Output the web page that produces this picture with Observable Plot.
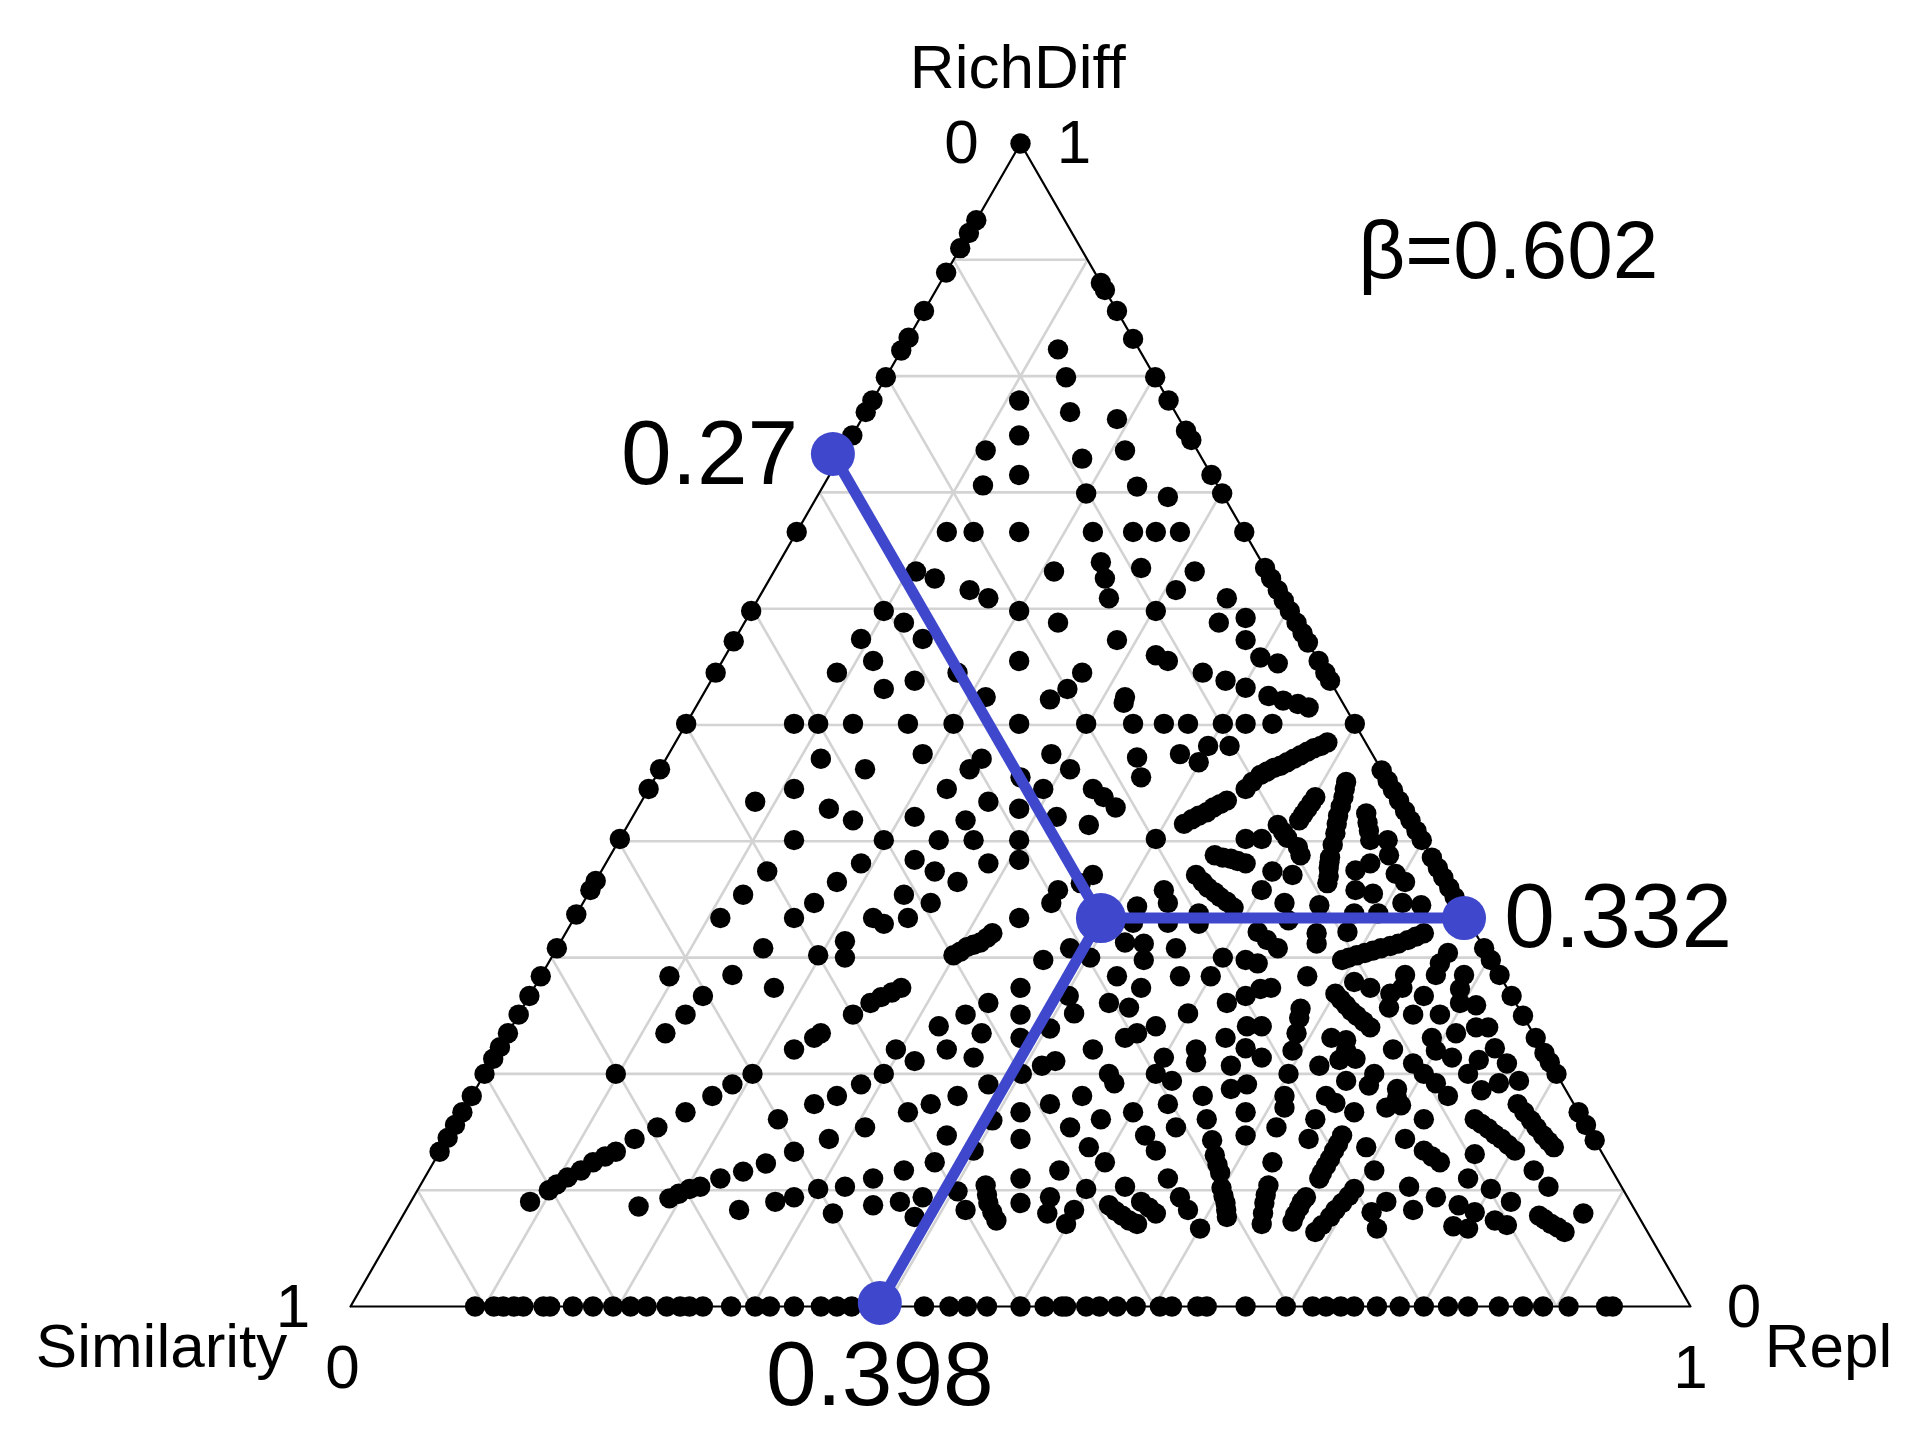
<!DOCTYPE html>
<html>
<head>
<meta charset="utf-8">
<style>html,body{margin:0;padding:0;background:#fff}svg{display:block}</style>
<script src="https://cdn.jsdelivr.net/npm/d3@7"></script>
<script src="https://cdn.jsdelivr.net/npm/@observablehq/plot@0.6"></script>
</head>
<body>
<script>
// Ternary values in percent: base = position along the base side, rich = RichDiff
const gridTicks = [10,20,30,40,50,60,70,80,90];
const apexRich = [100];
const leftEdgeRich = [93.4,92.3,91.0,88.9,85.6,83.3,82.2,79.9,77.9,76.9,74.9,66.6,59.8,57.2,54.5,50.1,46.2,44.5,40.2,36.6,35.8,33.7,30.8,28.4,26.7,25.1,23.5,22.3,21.3,20.0,18.1,16.7,15.6,14.5,13.3];
const rightEdgeRich = [88.0,87.4,85.6,83.2,79.9,77.9,75.3,74.5,71.5,69.9,66.6,63.5,62.6,61.6,60.7,59.8,58.8,57.9,57.1,55.5,54.5,53.8,50.1,46.1,45.2,44.4,43.5,42.6,41.8,40.9,40.1,38.6,37.7,36.9,36.0,35.2,30.8,29.8,28.5,26.7,25.0,23.1,21.8,21.0,20.0,16.7,15.6,14.3];
const baselinePos = [9.3,10.7,11.4,12.2,12.9,14.4,14.9,16.6,18.1,19.6,20.9,22.1,23.6,24.6,25.3,26.3,28.4,30.2,31.3,33.1,35.1,36.3,37.4,42.8,44.7,46.0,47.5,50.0,51.8,53.1,53.4,54.9,55.9,57.2,58.6,60.4,61.3,63.2,63.9,66.8,69.8,71.8,72.8,73.9,74.9,76.6,78.3,80.1,81.9,83.4,85.7,87.5,89.0,90.9,93.7,94.2];

const upperDots = [[52.8,82.3],[53.4,79.9],[49.9,77.9],[53.7,76.9],[57.2,76.3],[49.9,74.9],[47.4,73.6],[54.6,72.9],[57.8,73.6],[49.9,71.5],[47.2,70.6],[54.9,69.9],[58.7,70.5],[61.0,69.6],[44.5,66.6],[46.5,66.6],[49.9,66.6],[55.4,66.6],[58.4,66.6],[60.1,66.6],[61.9,66.6],[42.2,63.2],[43.6,62.6],[46.2,61.6],[47.6,60.9],[52.5,63.2],[56.0,64.0],[56.3,62.6],[56.6,60.9],[59.0,63.5],[63.0,63.2],[61.6,61.6],[65.4,60.9],[39.8,59.8],[41.3,58.8],[38.1,57.4],[42.7,57.4],[49.9,59.8],[60.1,59.8],[66.8,59.2],[64.8,58.8],[52.8,58.8],[57.2,57.3],[66.8,57.3],
[39.0,55.5],[36.3,54.5],[39.8,53.1],[42.1,53.8],[45.3,54.5],[47.4,52.4],[49.9,55.5],[54.6,54.5],[53.5,53.1],[52.2,52.2],[60.1,56.0],[61.0,55.5],[67.9,55.8],[69.2,55.3],[68.5,52.5],[69.6,52.1],[70.7,51.8],[71.5,51.5],[57.8,52.4],[63.6,54.5],[65.3,53.8],[66.8,53.2],[57.7,51.9],
[33.1,50.1],[34.9,50.1],[37.5,50.1],[41.6,50.1],[45.0,50.1],[49.9,50.1],[54.9,50.1],[58.4,50.1],[60.7,50.1],[62.5,50.1],[65.1,50.1],[66.8,50.1],[68.8,50.1]];

const middleDots = [[35.1,47.1],[38.4,46.2],[42.7,47.5],[47.1,47.1],[46.2,46.2],[52.3,47.5],[53.7,46.2],[50.0,45.5],[51.7,44.5],[55.4,44.5],[56.2,43.8],[57.1,42.9],[44.5,44.5],[33.1,44.5],[30.2,43.4],[35.7,42.8],[37.5,41.8],[42.1,42.1],[45.9,41.8],[47.6,43.4],[49.9,42.8],[52.7,42.1],[55.1,41.4],[65.6,48.2],[61.9,47.5],[64.0,48.2],[63.3,46.8],[58.7,47.2],[59.0,45.5],
[72.9,48.5],[72.4,48.2],[71.9,48.0],[71.4,47.7],[70.9,47.4],[70.4,47.1],[69.9,46.8],[69.4,46.5],[68.9,46.3],[68.4,46.0],[67.9,45.7],[67.3,45.1],[66.8,44.5],[65.4,43.5],[64.9,43.2],[64.4,42.9],[63.9,42.5],[63.3,42.2],[62.8,41.9],[62.2,41.5],[74.3,45.1],[74.2,44.5],[74.1,43.8],[73.9,43.0],[73.7,42.2],[73.6,41.5],[73.5,40.7],[73.3,39.7],[72.0,43.8],[71.7,43.3],[71.4,42.8],[71.1,42.3],[70.8,41.8],[75.8,42.4],[75.9,41.6],[76.0,40.9],[76.1,40.1],[77.4,40.1],[69.2,41.4],[69.6,40.8],[69.9,40.3],[66.8,40.2],[68.0,40.2],[60.1,40.2],
[33.1,40.1],[39.8,40.1],[43.9,40.1],[46.5,40.1],[49.9,40.1],
[77.5,38.8],[70.7,39.5],[70.9,38.8],[73.1,38.6],[73.05,38.2],[73.0,37.7],[73.0,37.0],[72.9,36.4],[76.1,38.1],[75.0,37.5],[75.0,35.8],[76.3,35.5],[78.0,37.2],[78.7,36.5],[78.5,34.7],[79.9,34.5],[64.5,38.8],[65.1,38.6],[65.7,38.5],[66.2,38.3],[66.8,38.1],[68.8,37.4],[70.3,37.1],[68.0,35.8],[69.7,34.7],[70.0,33.2],[63.1,37.1],[63.6,36.5],[64.0,36.0],[64.5,35.6],[64.9,35.2],[65.4,34.8],[65.9,34.3],[72.3,34.5],[72.1,32.1],[72.1,31.2],[74.9,33.8],[76.7,33.8],[74.4,32.2],[60.7,35.8],[61.0,34.7],[61.0,33.0],[58.7,34.4],[58.4,33.0],[63.3,33.8],[63.3,32.9],
[55.4,37.1],[54.5,36.4],[52.8,35.8],[52.3,34.7],[49.9,38.4],[38.1,38.1],[42.1,38.4],[43.6,37.4],[47.6,38.1],[31.1,37.4],[45.3,36.5],[36.3,36.5],[29.3,35.4],[34.6,34.7],[41.3,35.4],[43.3,34.7],[27.6,33.4],[33.1,33.4],[39.0,33.4],[39.8,32.9],[41.6,33.4],[49.9,33.4]];

const lowerDots = [[67.7,32.2],[68.4,31.5],[69.2,30.8],[80.1,32.1],[79.5,31.8],[78.9,31.5],[78.2,31.2],[77.6,31.0],[76.9,30.8],[76.3,30.6],[75.7,30.4],[75.1,30.2],[74.5,30.0],[74.0,29.8],[81.9,30.4],[81.3,29.5],[81.0,28.5],[83.1,28.5],[82.8,27.3],[82.8,26.1],[84.0,25.9],[78.7,28.5],[78.5,27.4],[77.6,26.9],[77.5,25.7],[74.9,27.9],[76.1,27.4],[80.1,26.7],[73.5,26.9],[73.9,26.4],[74.3,25.9],[74.7,25.4],[71.4,28.4],[70.9,25.6],[68.7,27.4],[67.9,27.3],[66.8,26.7],[65.4,26.1],[65.1,30.0],[66.8,29.8],[67.7,29.5],[64.2,28.4],[61.9,28.4],[62.5,25.2],[61.6,30.8],[59.2,31.2],[57.8,31.3],[59.2,29.8],[57.2,28.4],[59.0,27.4],[56.6,26.1],[58.1,25.7],[53.7,30.8],[55.2,30.0],[53.6,26.7],[54.0,25.2],
[36.9,31.4],[30.8,30.8],[34.9,30.2],[36.9,30.0],[51.7,29.8],[47.9,32.1],[47.5,31.7],[47.0,31.3],[46.5,31.1],[46.0,30.9],[45.5,30.5],[45.0,30.2],
[23.8,28.4],[28.5,28.5],[31.6,27.4],[26.3,26.7],[25.0,25.1],[23.5,23.5],[19.8,20.0],[30.0,20.0],[28.5,19.1],[27.0,18.1],[25.0,16.7],[22.9,15.4],[21.2,14.4],[19.8,13.3],[19.0,12.9],[18.1,12.4],[17.2,11.7],[16.2,11.1],[15.4,10.5],[14.8,10.0],[13.4,9.0],[21.5,8.6],[23.8,9.3],[24.5,9.7],[25.3,10.1],[26.1,10.3],[27.6,11.0],[29.3,11.6],[31.0,12.3],[33.1,13.3],[31.9,16.1],[34.6,17.4],[36.3,18.1],[38.1,19.1],[39.8,20.0],[33.1,22.1],[34.6,23.1],[35.1,23.5],[37.5,25.1],[38.8,26.1],[39.6,26.6],[40.4,27.0],[41.1,27.4],[35.7,14.4],[38.4,15.4],[40.7,22.1],[42.1,21.1],[41.6,16.7],[43.3,17.4],[45.3,18.1],[47.6,19.1],[43.9,24.1],[44.5,22.1],[45.9,25.1],[46.5,21.4],[47.1,23.5],[47.6,26.1],[50.0,27.4],[50.0,25.1],[50.0,23.1],[50.1,20.0],[51.6,20.7],[52.6,21.1],[44.5,14.7],[46.5,13.4],[47.9,16.0],[50.0,16.7],[50.0,14.4],[52.2,17.4],[53.7,15.4],[54.6,18.1],[52.9,11.7],[50.0,11.0],[47.4,10.4],[47.5,9.6],[47.6,8.9],[47.9,8.1],[48.2,7.4],[50.0,8.9],[52.2,9.4],[52.0,8.0],[54.0,8.3],[53.4,7.1],[54.9,10.1],[36.9,10.3],[34.9,10.1],[33.1,9.4],[31.7,9.0],[29.0,8.3],[36.0,8.0],[39.0,11.0],[41.3,11.7],[43.6,12.4],[39.0,8.7],[41.0,9.0],[42.7,9.4],[42.1,7.7],[45.9,8.3],[45.3,9.9],[52.2,23.9]];

const rightDots = [[60.1,24.1],[58.7,23.5],[57.8,23.1],[70.8,24.8],[66.9,24.1],[68.0,24.1],[65.3,23.1],[70.6,23.5],[70.3,22.0],[55.4,22.1],[60.7,21.4],[63.1,22.1],[63.1,21.0],[66.8,22.2],[68.0,21.4],[65.7,20.7],[56.6,20.0],[57.0,19.2],[60.1,20.0],[61.3,19.4],[58.4,16.7],[61.0,17.4],[63.6,18.1],[65.7,18.7],[66.9,19.1],[69.7,18.1],[69.7,17.1],[70.0,20.0],[66.8,16.7],[56.0,16.1],[63.9,16.1],[61.6,15.4],[69.1,15.4],[66.8,14.7],[59.3,14.7],[60.1,13.4],[64.3,14.3],[64.5,13.0],[64.7,12.2],[64.9,11.5],[55.1,13.7],[56.3,12.4],[61.0,11.0],[57.8,10.3],[56.6,8.7],[57.1,8.2],[57.6,7.8],[58.1,7.4],[58.7,7.1],[59.0,9.0],[59.6,8.5],[60.1,8.0],[61.9,9.4],[62.5,8.3],[63.4,6.7],[65.0,10.2],[65.15,9.5],[65.3,8.9],[65.35,8.3],[65.4,7.7],[68.5,10.4],[68.3,9.6],[68.2,8.9],[68.1,8.0],[68.0,7.1],[68.8,12.4],[71.3,9.4],[71.0,9.0],[70.8,8.5],[70.5,7.9],[70.3,7.3],[74.9,10.1],[74.5,9.5],[74.0,8.9],[73.5,8.3],[73.1,7.7],[72.5,7.0],[72.0,6.4],[74.0,14.7],[73.7,14.0],[73.4,13.4],[73.1,12.7],[72.8,12.1],[72.5,11.5],[72.3,11.0],[71.5,14.4],[72.0,16.1],[74.9,16.7],[72.8,18.1],[73.5,17.5],[75.8,13.7],[76.4,11.7],[77.3,9.0],[76.2,8.1],[76.6,6.7],[79.0,10.3],[79.3,8.3],[81.0,9.4],[78.7,14.4],[80.1,13.4],[80.7,12.9],[81.3,12.4],[80.1,16.1],[83.4,11.0],[85.1,10.1],[86.6,9.0],[83.9,13.1],[82.7,8.7],[83.9,8.1],[82.3,6.9],[83.4,6.7],[85.4,7.4],[86.3,7.0],[88.7,7.8],[89.1,7.5],[89.6,7.1],[90.1,6.8],[90.6,6.4],[92.0,8.0],[88.3,11.7],[89.4,10.3],[83.9,16.1],[84.4,15.7],[84.9,15.3],[85.4,14.8],[85.9,14.4],[86.4,13.9],[86.9,13.4],[87.1,17.4],[87.6,16.7],[88.1,16.0],[88.5,15.4],[89.0,14.7],[89.4,14.2],[89.8,13.7],[81.9,18.1],[78.1,18.7],[78.1,17.9],[77.3,17.1],[78.4,17.3],[76.4,20.0],[76.0,19.0],[74.3,19.4],[72.3,20.7],[73.8,21.2],[75.0,21.3],[74.3,22.0],[73.2,23.1],[74.3,22.9],[79.3,20.9],[80.1,20.0],[81.0,19.2],[77.8,22.1],[83.4,20.0],[84.2,21.2],[85.4,22.2],[86.3,20.9],[87.2,19.4],[84.4,18.6],[85.7,19.2],[80.7,23.1],[81.0,22.0],[82.2,21.4],[82.5,23.5],[81.3,25.1],[79.3,25.1],[84.0,24.0],[84.9,24.0],[75.1,25.0],[75.6,24.5],[76.1,24.0]];

// The blue centroid and its three projections
const centerPoint = [56.0,33.4];
const blueEnds = [[36.0,73.3],[83.1,33.4],[39.5,0.3]];

const smallLabels = ["RichDiff","0","1","Similarity","1","0","Repl","0","1"];
const smallLabelX = [49.8,45.6,54.0,-14.1,-4.3,-0.6,110.3,104.0,100.0];
const smallLabelY = [104.75,98.3,98.3,-5.2,-1.75,-7.05,-5.2,-1.75,-7.05];
const bigLabels = ["0.27","0.332","0.398"];
const bigLabelX = [26.8,94.6,39.5];
const bigLabelY = [70.7,30.9,-8.5];
const betaLabel = "β=0.602";

const interior = [...upperDots,...middleDots,...lowerDots,...rightDots].map(([base,rich])=>({base,rich}));
const edgeDots = [
  ...apexRich.map(r=>({base:50,rich:r})),
  ...leftEdgeRich.map(r=>({base:r/2,rich:r})),
  ...rightEdgeRich.map(r=>({base:100-r/2,rich:r})),
  ...baselinePos.map(p=>({base:p,rich:0}))
];
const grid = gridTicks.flatMap(k=>[
  {x1:k/2,y1:k,x2:100-k/2,y2:k},
  {x1:k/2,y1:k,x2:k,y2:0},
  {x1:100-k/2,y1:k,x2:100-k,y2:0}
]);
const outline = [{base:0,rich:0},{base:100,rich:0},{base:50,rich:100},{base:0,rich:0}];
const spokes = blueEnds.map(([x,y])=>({x1:centerPoint[0],y1:centerPoint[1],x2:x,y2:y}));
const font = "'Liberation Sans', Arial, sans-serif";

const chart = Plot.plot({
  width:1923, height:1450, margin:0,
  style:{background:"#fff", fontFamily:font},
  x:{domain:[0,100], range:[350,1690], axis:null},
  y:{domain:[0,100], range:[1306,143], axis:null},
  marks:[
    Plot.link(grid,{x1:"x1",y1:"y1",x2:"x2",y2:"y2",stroke:"#d3d3d3",strokeWidth:2.6}),
    Plot.line(outline,{x:"base",y:"rich",stroke:"#000",strokeWidth:2.2}),
    Plot.dot([...edgeDots,...interior],{x:"base",y:"rich",r:10.2,fill:"#000",stroke:"none"}),
    Plot.link(spokes,{x1:"x1",y1:"y1",x2:"x2",y2:"y2",stroke:"#3f48cc",strokeWidth:11}),
    Plot.dot(blueEnds,{x:d=>d[0],y:d=>d[1],r:22,fill:"#3f48cc",stroke:"none"}),
    Plot.dot([centerPoint],{x:d=>d[0],y:d=>d[1],r:25,fill:"#3f48cc",stroke:"none"}),
    Plot.text(smallLabels,{x:(d,i)=>smallLabelX[i],y:(d,i)=>smallLabelY[i],text:d=>d,fontSize:62,lineAnchor:"bottom",fill:"#000",fontFamily:font}),
    Plot.text(bigLabels,{x:(d,i)=>bigLabelX[i],y:(d,i)=>bigLabelY[i],text:d=>d,fontSize:91,lineAnchor:"bottom",fill:"#000",fontFamily:font}),
    Plot.text([betaLabel],{x:86.4,y:88.4,text:d=>d,fontSize:82,lineAnchor:"bottom",fill:"#000",fontFamily:font})
  ]
});
document.body.appendChild(chart);
</script>
</body>
</html>
